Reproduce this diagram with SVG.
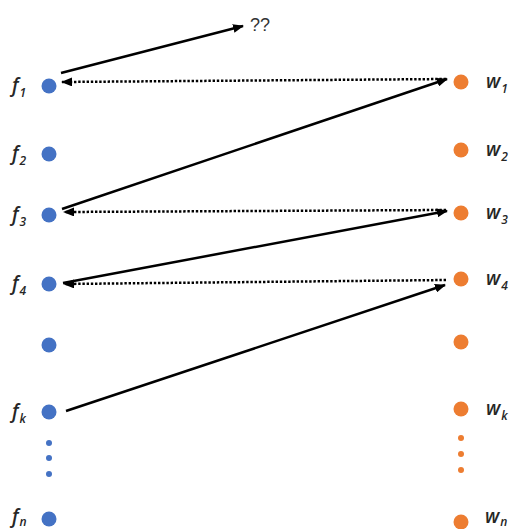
<svg xmlns="http://www.w3.org/2000/svg" width="513" height="529" viewBox="0 0 513 529">
<style>
.bg{fill:#ffffff}
.f{fill:#4472C4}
.w{fill:#ED7D31}
.lbl{font-family:"Open Sans","Liberation Sans",Arial,sans-serif;font-style:italic;font-weight:600;font-size:19px;fill:#262626}
.sub{font-size:12px}
.q{font-family:"Liberation Sans",Arial,sans-serif;font-size:18px;fill:#333333}
.solid{stroke:#000;stroke-width:2.5;fill:none;marker-end:url(#ah)}
.dot{stroke:#000;stroke-width:2.5;fill:none;stroke-dasharray:2.4 1.8;marker-end:url(#ah)}
</style>
<defs>
<marker id="ah" markerUnits="userSpaceOnUse" markerWidth="11" markerHeight="9" refX="10" refY="4.5" orient="auto">
<path d="M0,0 L11,4.5 L0,9 z" fill="#000"/>
</marker>
</defs>
<rect class="bg" x="0" y="0" width="513" height="529"/>
<g id="f1"><circle class="f" cx="49" cy="86" r="7.5"/><text class="lbl" x="12" y="92">f<tspan class="sub" dx="1" dy="5">1</tspan></text></g>
<g id="f2"><circle class="f" cx="49" cy="154" r="7.5"/><text class="lbl" x="12" y="160">f<tspan class="sub" dx="1" dy="5">2</tspan></text></g>
<g id="f3"><circle class="f" cx="49" cy="215" r="7.5"/><text class="lbl" x="12" y="221">f<tspan class="sub" dx="1" dy="5">3</tspan></text></g>
<g id="f4"><circle class="f" cx="49" cy="284" r="7.5"/><text class="lbl" x="12" y="290">f<tspan class="sub" dx="1" dy="5">4</tspan></text></g>
<g id="f5"><circle class="f" cx="49" cy="345" r="7.5"/></g>
<g id="fk"><circle class="f" cx="49" cy="412" r="7.5"/><text class="lbl" x="12" y="418">f<tspan class="sub" dx="1" dy="5">k</tspan></text></g>
<g id="fdots"><circle class="f" cx="49" cy="443" r="3"/><circle class="f" cx="49" cy="458" r="3"/><circle class="f" cx="49" cy="474" r="3"/></g>
<g id="fn"><circle class="f" cx="49" cy="519" r="7.5"/><text class="lbl" x="12" y="523">f<tspan class="sub" dx="1" dy="3">n</tspan></text></g>
<g id="w1"><circle class="w" cx="461" cy="82" r="7.5"/><text class="lbl" x="486" y="88">w<tspan class="sub" dx="1" dy="5">1</tspan></text></g>
<g id="w2"><circle class="w" cx="461" cy="150" r="7.5"/><text class="lbl" x="486" y="156">w<tspan class="sub" dx="1" dy="5">2</tspan></text></g>
<g id="w3"><circle class="w" cx="461" cy="213" r="7.5"/><text class="lbl" x="486" y="219">w<tspan class="sub" dx="1" dy="5">3</tspan></text></g>
<g id="w4"><circle class="w" cx="461" cy="279" r="7.5"/><text class="lbl" x="486" y="285">w<tspan class="sub" dx="1" dy="5">4</tspan></text></g>
<g id="w5"><circle class="w" cx="461" cy="342" r="7.5"/></g>
<g id="wk"><circle class="w" cx="461" cy="409" r="7.5"/><text class="lbl" x="486" y="415">w<tspan class="sub" dx="1" dy="5">k</tspan></text></g>
<g id="wdots"><circle class="w" cx="461" cy="438" r="3"/><circle class="w" cx="461" cy="454" r="3"/><circle class="w" cx="461" cy="470" r="3"/></g>
<g id="wn"><circle class="w" cx="461" cy="522" r="7.5"/><text class="lbl" x="485" y="523">w<tspan class="sub" dx="1" dy="3">n</tspan></text></g>
<g id="unknown"><text class="q" x="250" y="31">??</text></g>
<g id="connectors">
<line class="solid" x1="61" y1="73" x2="243" y2="26"/>
<line class="dot" x1="446" y1="79" x2="62" y2="82"/>
<line class="solid" x1="62" y1="209" x2="447" y2="79"/>
<line class="dot" x1="446" y1="210" x2="64" y2="212"/>
<line class="solid" x1="63" y1="283" x2="447" y2="211"/>
<line class="dot" x1="446" y1="280" x2="64" y2="284"/>
<line class="solid" x1="66" y1="411" x2="445" y2="285"/>
</g>
</svg>
